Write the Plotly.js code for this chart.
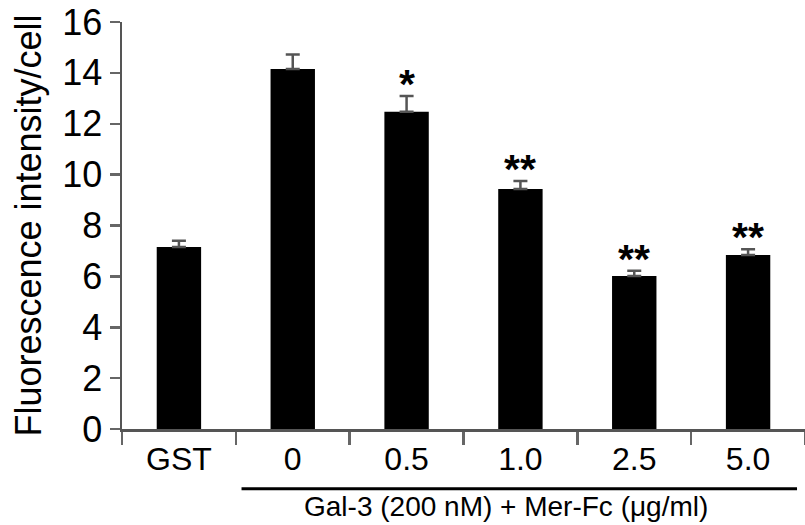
<!DOCTYPE html>
<html>
<head>
<meta charset="utf-8">
<script src="https://cdn.plot.ly/plotly-3.0.1.min.js"></script>
<style>
  html, body { margin: 0; padding: 0; background: #ffffff; }
  #chart { width: 805px; height: 525px; }
</style>
</head>
<body>
<div id="chart"></div>
<script>
// ---- data ----
const categories = ['GST', '0', '0.5', '1.0', '2.5', '5.0'];
const values = [7.15, 14.15, 12.47, 9.43, 6.01, 6.84];
const errors = [0.25, 0.57, 0.62, 0.32, 0.21, 0.23];
const stars = ['', '', '*', '**', '**', '**'];
const yTicks = [0, 2, 4, 6, 8, 10, 12, 14, 16];
const yTitle = 'Fluorescence intensity/cell';
const groupLabel = 'Gal-3 (200 nM) + Mer-Fc (\u03bcg/ml)';
const groupStart = 1;           // first category under the bracket line
const groupEnd = 5;             // last category under the bracket line

const FONT = 'Liberation Sans, Arial, Helvetica, sans-serif';

const trace = {
  type: 'bar',
  x: categories,
  y: values,
  width: 0.39,
  marker: { color: '#000000', line: { width: 0 } },
  error_y: {
    type: 'data',
    symmetric: false,
    array: errors,
    arrayminus: errors.map(() => 0),
    color: '#555555',
    thickness: 2.5,
    width: 7
  },
  hoverinfo: 'x+y'
};

const annotations = [];
categories.forEach((c, i) => {
  if (stars[i]) {
    annotations.push({
      x: i, y: values[i] + errors[i], xref: 'x', yref: 'y',
      text: stars[i], showarrow: false,
      xanchor: 'center', yanchor: 'middle', yshift: 12,
      font: { family: FONT, size: 41, color: '#000000', weight: 'bold' }
    });
  }
});
// group label under the bracket line
annotations.push({
  x: (groupStart + groupEnd) / 2 - 0.13, y: -0.19, xref: 'x', yref: 'paper',
  text: groupLabel, showarrow: false,
  xanchor: 'center', yanchor: 'middle',
  font: { family: FONT, size: 28, color: '#000000' }
});

const layout = {
  width: 805, height: 525,
  margin: { l: 122, r: 0, t: 22, b: 96, pad: 0 },
  paper_bgcolor: '#ffffff', plot_bgcolor: '#ffffff',
  showlegend: false,
  bargap: 0.61,
  font: { family: FONT, color: '#000000' },
  xaxis: {
    type: 'category',
    range: [-0.5, categories.length - 0.5],
    tickson: 'boundaries',
    ticks: 'outside', ticklen: 13, tickwidth: 2.5, tickcolor: '#666666',
    showline: true, linecolor: '#555555', linewidth: 2.5,
    showgrid: false, zeroline: false,
    tickfont: { family: FONT, size: 32, color: '#000000' },
    fixedrange: true
  },
  yaxis: {
    range: [0, 16],
    tickmode: 'array', tickvals: yTicks, ticktext: yTicks.map(String),
    ticks: 'outside', ticklen: 10, tickwidth: 2.5, tickcolor: '#666666',
    showline: true, linecolor: '#555555', linewidth: 2.5,
    showgrid: false, zeroline: false,
    tickfont: { family: FONT, size: 36, color: '#000000' },
    title: { text: yTitle, font: { family: FONT, size: 36, color: '#000000' }, standoff: 10 },
    automargin: false,
    fixedrange: true
  },
  shapes: [{
    type: 'line', xref: 'x', yref: 'paper',
    x0: groupStart - 0.45, x1: groupEnd + 0.43,
    y0: -0.147, y1: -0.147,
    line: { color: '#000000', width: 3 }
  }],
  annotations: annotations
};

Plotly.newPlot('chart', [trace], layout, { displayModeBar: false, staticPlot: true });
</script>
</body>
</html>
